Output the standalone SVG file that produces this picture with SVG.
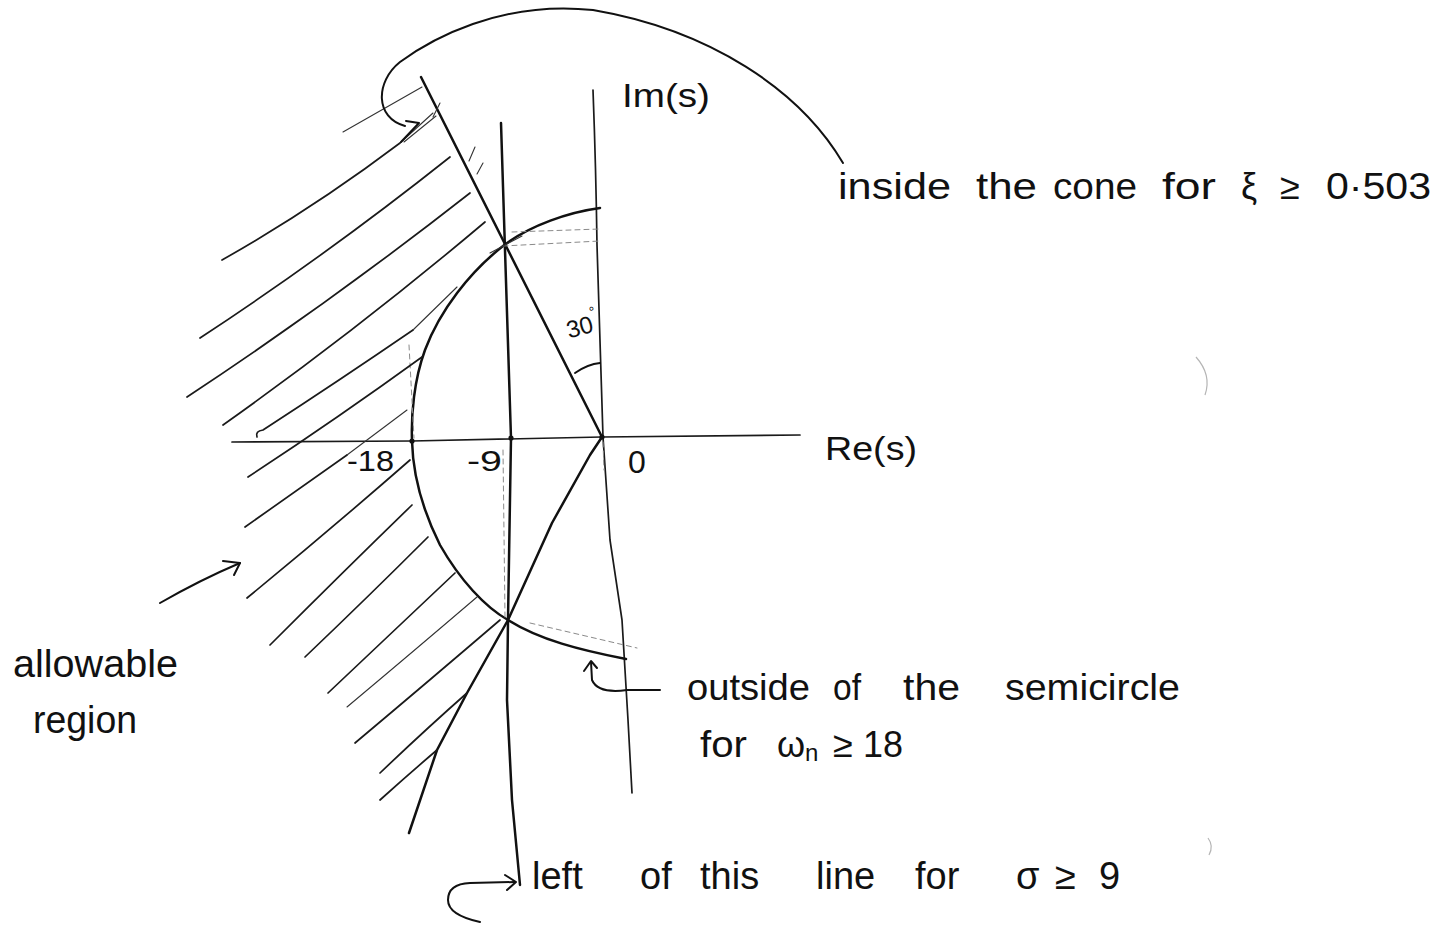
<svg xmlns="http://www.w3.org/2000/svg" width="1439" height="951" viewBox="0 0 1439 951">
<style>
  .bg{fill:#ffffff}
  .main{fill:none;stroke:#111;stroke-width:2.5;stroke-linecap:round;stroke-linejoin:round}
  .axis{fill:none;stroke:#1a1a1a;stroke-width:1.7;stroke-linecap:round;stroke-linejoin:round}
  .hatch{fill:none;stroke:#1a1a1a;stroke-width:1.7;stroke-linecap:round}
  .thin{fill:none;stroke:#333;stroke-width:1.1;stroke-linecap:round}
  .faint{fill:none;stroke:#8a8a8a;stroke-width:1;stroke-dasharray:5 4;stroke-linecap:round}
  .ann{fill:none;stroke:#111;stroke-width:2;stroke-linecap:round;stroke-linejoin:round}
  .spot{fill:none;stroke:#b5b5b5;stroke-width:1.2}
  .lbl{font-family:"Liberation Sans","DejaVu Sans",sans-serif;fill:#111}
</style>
<rect class="bg" x="0" y="0" width="1439" height="951"/>

<g id="axes">
  <path class="axis" d="M232,442 L412,441 L602,437 L800,435"/>
  <path class="axis" d="M593,90 Q596,170 597,245 L603,437 L610,540 L622,620 L628,720 L632,793"/>
  <circle cx="412" cy="441" r="2.6" fill="#111"/>
  <circle cx="511" cy="438" r="2.6" fill="#111"/>
  <circle cx="602" cy="437" r="2.6" fill="#111"/>
</g>

<g id="boundaries">
  <path id="sigma-line" class="main" d="M501,123 L505,250 L511,438 L508,620 L507,700 L512,800 L520,885"/>
  <path id="cone-upper" class="main" d="M421,77 L602,437"/>
  <path id="cone-lower" class="main" d="M602,437 L590,455 L552,523 L508,620 L467,693 L437,750 L409,833"/>
  <path id="semicircle" class="main" d="M600,208 C570,212 530,225 503,246 C470,272 440,310 425,350 C414,380 411,415 412,441 C413,480 425,515 440,545 C460,580 485,607 508,620 C540,640 580,650 626,659"/>
  <path id="angle-arc" class="ann" d="M575,373 Q588,364 600,363"/>
</g>

<g id="construction">
  <path class="faint" d="M503,246 L600,241"/>
  <path class="faint" d="M512,232 L600,229"/>
  <path class="faint" d="M530,623 L637,648"/>
  <path class="faint" d="M409,345 L414,438"/>
  <path class="faint" d="M503,450 L505,617"/>
  <path class="faint" d="M603,442 L604,470"/>
</g>

<g id="hatching">
  <path class="thin" d="M343,132 L422,87"/>
  <path class="hatch" d="M222,260 Q314,208 400,143"/>
  <path class="thin" d="M400,143 L433,113"/>
  <path class="thin" d="M404,142 L436,116"/>
  <path class="hatch" d="M200,338 Q328,254 450,157"/>
  <path class="hatch" d="M187,397 Q331,302 470,193"/>
  <path class="hatch" d="M223,425 Q357,330 485,222"/>
  <path class="hatch" d="M257,437 Q255,431 263,430 Q340,380 413,330"/>
  <path class="thin" d="M413,330 L457,287"/>
  <path class="hatch" d="M248,477 Q335,420 422,357"/>
  <path class="hatch" d="M245,527 Q300,488 347,455"/>
  <path class="thin" d="M347,455 L407,410"/>
  <path class="hatch" d="M247,598 Q330,530 410,460"/>
  <path class="hatch" d="M270,645 Q345,570 412,505"/>
  <path class="hatch" d="M305,657 Q370,595 428,537"/>
  <path class="hatch" d="M328,693 Q395,630 455,573"/>
  <path class="thin" d="M347,707 Q415,650 477,597"/>
  <path class="hatch" d="M355,743 Q430,680 500,620"/>
  <path class="hatch" d="M380,773 Q425,730 467,693"/>
  <path class="hatch" d="M380,800 Q410,773 437,750"/>
  <path class="thin" d="M440,103 L433,117"/>
  <path class="thin" d="M475,147 L469,161"/>
  <path class="thin" d="M483,163 L477,174"/>
  <path class="thin" d="M490,253 L522,236"/>
</g>

<g id="connectors">
  <path class="ann" d="M843,163 C800,90 710,30 593,10 C500,0 430,40 400,62 C375,82 375,118 405,126"/>
  <path class="ann" d="M406,121 L419,123 L401,142"/>
  <path class="ann" d="M660,690 L627,690 Q598,694 592,680 L591,662"/>
  <path class="ann" d="M584,671 L591,661 L597,668"/>
  <path class="ann" d="M480,922 Q448,915 448,900 Q448,884 470,883 L515,882"/>
  <path class="ann" d="M505,875 L516,882 L507,890"/>
  <path class="ann" d="M160,603 Q200,580 240,563"/>
  <path class="ann" d="M223,561 L240,563 L234,575"/>
</g>

<g id="labels">
  <text class="lbl" x="622" y="107" font-size="34" textLength="88" lengthAdjust="spacingAndGlyphs">Im(s)</text>
  <text class="lbl" x="825" y="460" font-size="34" textLength="92" lengthAdjust="spacingAndGlyphs">Re(s)</text>
  <text class="lbl" x="347" y="471" font-size="30" textLength="47" lengthAdjust="spacingAndGlyphs">-18</text>
  <text class="lbl" x="467" y="471" font-size="30" textLength="35" lengthAdjust="spacingAndGlyphs">-9</text>
  <text class="lbl" x="628" y="473" font-size="32">0</text>
  <text class="lbl" font-size="24" transform="rotate(-15 580 322)"><tspan x="565" y="335">30</tspan><tspan font-size="14" dy="-15">°</tspan></text>
  <text class="lbl" y="199" font-size="36"><tspan x="838" textLength="113" lengthAdjust="spacingAndGlyphs">inside</tspan> <tspan x="976" textLength="61" lengthAdjust="spacingAndGlyphs">the</tspan> <tspan x="1053" textLength="84" lengthAdjust="spacingAndGlyphs">cone</tspan> <tspan x="1162" textLength="54" lengthAdjust="spacingAndGlyphs">for</tspan> <tspan x="1241">ξ</tspan> <tspan x="1280">≥</tspan> <tspan x="1326" textLength="105" lengthAdjust="spacingAndGlyphs">0·503</tspan></text>
  <text class="lbl" y="700" font-size="36"><tspan x="687" textLength="123" lengthAdjust="spacingAndGlyphs">outside</tspan> <tspan x="833" textLength="28" lengthAdjust="spacingAndGlyphs">of</tspan> <tspan x="903" textLength="57" lengthAdjust="spacingAndGlyphs">the</tspan> <tspan x="1005" textLength="175" lengthAdjust="spacingAndGlyphs">semicircle</tspan></text>
  <text class="lbl" y="757" font-size="36"><tspan x="700" textLength="47" lengthAdjust="spacingAndGlyphs">for</tspan> <tspan x="777">ω</tspan><tspan font-size="24" dy="4">n</tspan> <tspan x="833" dy="-4">≥</tspan> <tspan x="863" textLength="40" lengthAdjust="spacingAndGlyphs">18</tspan></text>
  <text class="lbl" x="13" y="677" font-size="38" textLength="165" lengthAdjust="spacingAndGlyphs">allowable</text>
  <text class="lbl" x="33" y="733" font-size="38" textLength="104" lengthAdjust="spacingAndGlyphs">region</text>
  <text class="lbl" y="889" font-size="38"><tspan x="532">left</tspan> <tspan x="640">of</tspan> <tspan x="700">this</tspan> <tspan x="816">line</tspan> <tspan x="915">for</tspan> <tspan x="1016">σ</tspan> <tspan x="1055">≥</tspan> <tspan x="1099">9</tspan></text>
</g>

<g id="specks">
  <path class="spot" d="M1196,357 Q1212,375 1205,395"/>
  <path class="spot" d="M1208,838 Q1214,846 1209,855"/>
</g>
</svg>
